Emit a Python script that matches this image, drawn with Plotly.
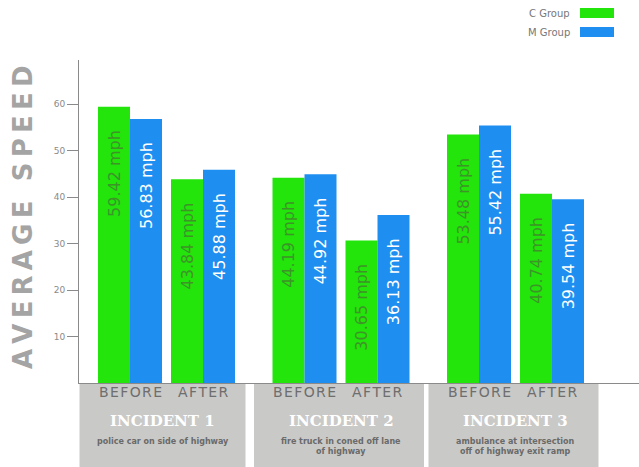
import plotly.graph_objects as go

# ---- data ----
incidents = ["INCIDENT 1", "INCIDENT 2", "INCIDENT 3"]
subtitles = ["police car on side of highway",
             "fire truck in coned off lane<br>of highway",
             "ambulance at intersection<br>off of highway exit ramp"]
phases = ["BEFORE", "AFTER"]
c_group = [59.42, 43.84, 44.19, 30.65, 53.48, 40.74]
m_group = [56.83, 45.88, 44.92, 36.13, 55.42, 39.54]
y_ticks = [10, 20, 30, 40, 50, 60]

# ---- layout constants (pixels) ----
W, H = 639, 467
ML, MR, MT, MB = 79, 0, 60, 84
PW, PH = W - ML - MR, H - MT - MB
FIRST, GROUP_STEP, PAIR_STEP = 51, 174.5, 73

def px_x(px):
    return (px - ML) / PW

def px_y(py):
    return (H - MB - py) / PH

positions = [FIRST + GROUP_STEP * i + PAIR_STEP * j
             for i in range(len(incidents)) for j in range(len(phases))]
phase_labels = phases * len(incidents)

GREEN, BLUE = "#23e40b", "#1e8ff0"
pad = "\u00a0\u00a0\u00a0\u00a0"

fig = go.Figure()
fig.add_trace(go.Bar(x=positions, y=c_group, name="C Group", marker_color=GREEN,
                     marker_line_width=0,
                     text=[f"{v:.2f} mph{pad}" for v in c_group],
                     textposition="inside", insidetextanchor="end", textangle=-90,
                     textfont=dict(size=16, color="#3d9528", family="DejaVu Sans")))
fig.add_trace(go.Bar(x=positions, y=m_group, name="M Group", marker_color=BLUE,
                     marker_line_width=0,
                     text=[f"{v:.2f} mph{pad}" for v in m_group],
                     textposition="inside", insidetextanchor="end", textangle=-90,
                     textfont=dict(size=16, color="white", family="DejaVu Sans")))

shapes = []
annotations = []
for i, (inc, sub) in enumerate(zip(incidents, subtitles)):
    mid = FIRST + GROUP_STEP * i + PAIR_STEP / 2
    cx = mid if i else mid - 4
    shapes.append(dict(type="rect", xref="x", yref="paper",
                       x0=max(0, mid - 87), x1=mid + 79 if i == 0 else mid + 83,
                       y0=px_y(H + 5), y1=px_y(383),
                       fillcolor="#c9c9c7", line_width=0, layer="below"))
    annotations.append(dict(x=cx, y=px_y(421), xref="x", yref="paper",
                            xanchor="center", yanchor="middle",
                            text=f"<b>{inc}</b>", showarrow=False,
                            font=dict(size=15, color="white", family="DejaVu Serif")))
    annotations.append(dict(x=cx, y=px_y(435), xref="x", yref="paper",
                            xanchor="center", yanchor="top",
                            text=f"<b>{sub}</b>", showarrow=False,
                            font=dict(size=8, color="#6a6a6a", family="DejaVu Sans")))

# BEFORE / AFTER labels
for pos, lab in zip(positions, phase_labels):
    annotations.append(dict(x=pos, y=px_y(392), xref="x", yref="paper",
                            xanchor="center", yanchor="middle",
                            text="\u200a".join(list(lab)), showarrow=False,
                            font=dict(size=14, color="#6e6e6e", family="DejaVu Sans")))

# legend (text left of swatch)
for name, color, ty in [("C Group", GREEN, 13), ("M Group", BLUE, 32)]:
    annotations.append(dict(x=px_x(572), y=px_y(ty), xref="paper", yref="paper",
                            xanchor="right", yanchor="middle", text=name, showarrow=False,
                            font=dict(size=10, color="#777777", family="DejaVu Sans")))
    shapes.append(dict(type="rect", xref="paper", yref="paper",
                       x0=px_x(580), x1=px_x(614), y0=px_y(ty + 5), y1=px_y(ty - 5),
                       fillcolor=color, line_width=0))

# y title
annotations.append(dict(x=px_x(23), y=px_y(217), xref="paper", yref="paper",
                        xanchor="center", yanchor="middle",
                        text="<b>" + "\u2009".join(list("AVERAGE SPEED")) + "</b>",
                        textangle=-90, showarrow=False,
                        font=dict(size=26, color="#a4a4a4", family="DejaVu Sans")))

fig.update_layout(
    width=W, height=H,
    margin=dict(l=ML, r=MR, t=MT, b=MB, pad=0),
    paper_bgcolor="white", plot_bgcolor="white",
    barmode="group", bargap=(PAIR_STEP - 64) / PAIR_STEP, bargroupgap=0,
    showlegend=False,
    font=dict(family="DejaVu Sans"),
    xaxis=dict(range=[0, PW], showticklabels=False,
               ticks="", showline=True, linecolor="#8a8a8a", linewidth=1,
               showgrid=False, zeroline=False),
    yaxis=dict(range=[0, 69.5], tickvals=y_ticks, ticks="outside", ticklen=11,
               tickcolor="#8a8a8a", showline=True, linecolor="#8a8a8a", linewidth=1,
               showgrid=False, zeroline=False,
               tickfont=dict(size=9, color="#8a8a8a", family="DejaVu Sans")),
    yaxis2=dict(range=[0, 69.5], overlaying="y", anchor="x", side="left",
                tickvals=y_ticks, ticks="inside", ticklen=10, tickcolor="#8a8a8a",
                showticklabels=False, showline=False, showgrid=False, zeroline=False),
    shapes=shapes, annotations=annotations,
)

fig.write_html("out.html")
